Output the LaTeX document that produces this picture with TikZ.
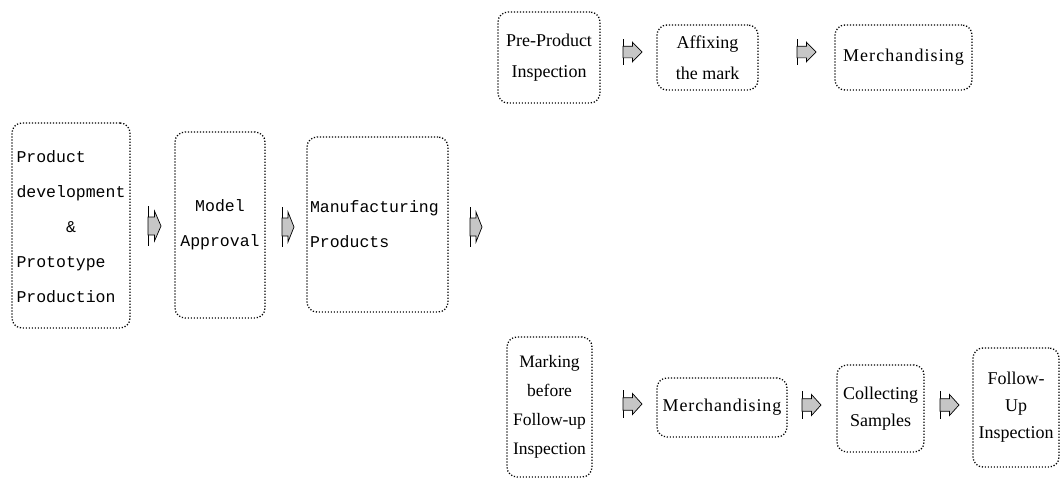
\documentclass[tikz,border=0pt]{standalone}
\usepackage{fontspec}
\setmainfont{Liberation Serif}
\setmonofont{Liberation Mono}
\usepackage{tikz}

\tikzset{
  stage/.style={draw, rounded corners=10pt, line width=1.3pt, dash pattern=on 1.2pt off 1.8pt, inner sep=3pt, align=center},
  typed/.style={font=\ttfamily\fontsize{16.5}{35}\selectfont},
  printed/.style={font=\fontsize{18}{31}\selectfont},
}

% small block arrow: name, left end, half height, length
\newcommand{\pointer}[4]{%
  \coordinate (#1) at (#2);
  \draw[line width=0.9pt] (#1) ++(0,-#3) -- ++(0,{2*#3});
  \filldraw[fill=gray!45, line width=0.7pt] (#1) ++(0,{-0.45*#3}) -- ++({0.5*#4},0) -- ++(0,{-0.3*#3})
    -- ++({0.5*#4},{0.75*#3}) -- ++({-0.5*#4},{0.75*#3}) -- ++(0,{-0.3*#3}) -- ++({-0.5*#4},0) -- cycle;
}

\begin{document}
\begin{tikzpicture}[x=1pt, y=-1pt]
        \useasboundingbox (0,0) rectangle (1061,479);
        % Draw the main line of stages
        \node[stage, typed, minimum width=118pt, minimum height=205pt] (develop) at (71,225.5)
          {\begin{tabular}{@{}l@{}}Product\\development\\\multicolumn{1}{@{}c@{}}{\&}\\Prototype\\Production\end{tabular}};
        \node[stage, typed, minimum width=90pt, minimum height=186pt] (approve) at (220,225) {Model\\Approval};
        \node[stage, typed, minimum height=175pt, text width=135pt, align=left] (make) at (377.5,224.5) {Manufacturing\\Products};
        % Draw the upper branch
        \node[stage, printed, minimum width=102pt, minimum height=91pt] (preinspect) at (549,57.5) {Pre-Product\\Inspection};
        \node[stage, printed, minimum width=101pt, minimum height=65pt] (affix) at (707.5,57.5) {Affixing\\the mark};
        \node[stage, printed, minimum width=137pt, minimum height=65pt] (sellA) at (903.5,57.5) {\addfontfeature{LetterSpace=6}Merchandising};
        % Draw the lower branch
        \node[stage, font=\fontsize{17.5}{29}\selectfont, minimum width=85pt, minimum height=140pt] (premark) at (549.5,407) {Marking\\before\\Follow-up\\Inspection};
        \node[stage, printed, minimum width=130pt, minimum height=59pt] (sellB) at (722,407.5) {\addfontfeature{LetterSpace=5}Merchandising};
        \node[stage, font=\fontsize{18}{27}\selectfont, minimum width=87pt, minimum height=87pt] (sample) at (880.5,408.5) {Collecting\\Samples};
        \node[stage, font=\fontsize{18}{27}\selectfont, minimum width=86pt, minimum height=119pt] (followup) at (1016,407.5) {Follow-\\Up\\Inspection};
        % Draw arrows
        \pointer{p1}{148,226}{20}{13}
        \pointer{p2}{282,227}{20}{12}
        \pointer{p3}{470,227}{20}{12}
        \pointer{p4}{623,52}{13}{19}
        \pointer{p5}{797,52}{13}{19}
        \pointer{p6}{623,404}{14}{19}
        \pointer{p7}{802,405}{14}{19}
        \pointer{p8}{940,405}{14}{19}
\end{tikzpicture}
\end{document}
